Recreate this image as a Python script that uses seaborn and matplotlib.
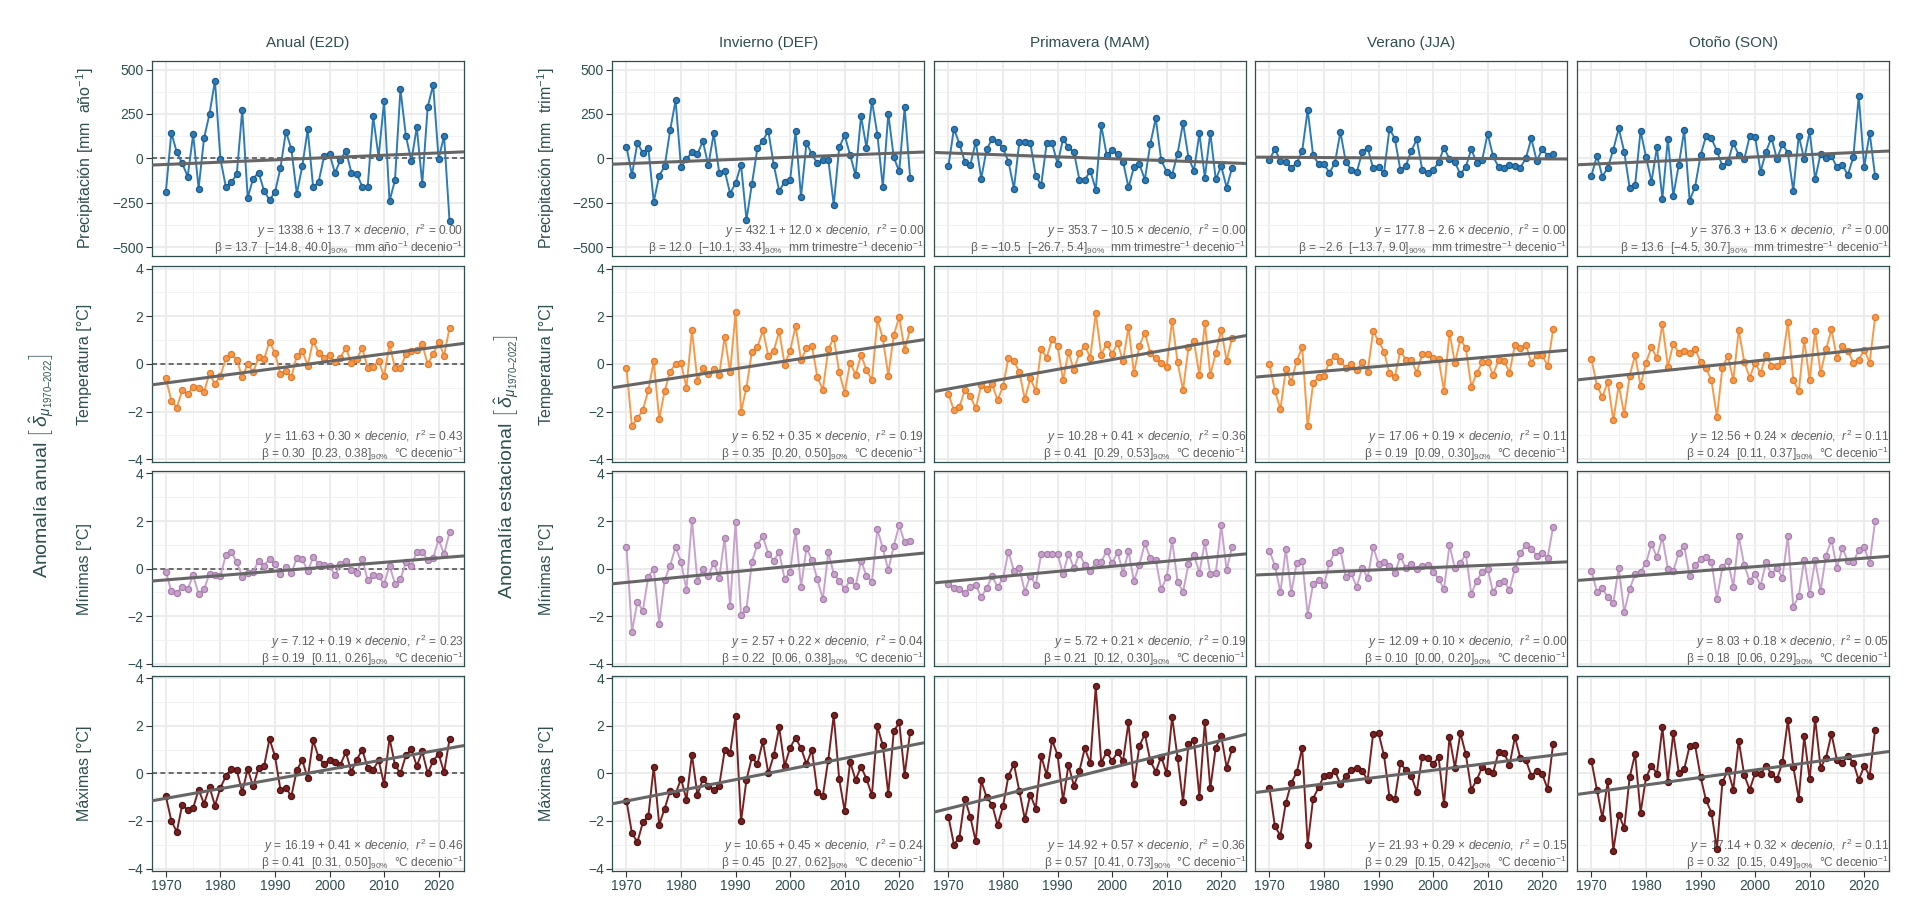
import numpy as np
import pandas as pd
import matplotlib
matplotlib.use("Agg")
import matplotlib.pyplot as plt
import seaborn as sns
from matplotlib.ticker import FixedLocator

# ---------------- data ----------------
years = list(range(1970, 2023))
columns = ["Anual (E2D)", "Invierno (DEF)", "Primavera (MAM)", "Verano (JJA)", "Otoño (SON)"]

precip_anual = [-187, 144, 34, -28, -103, 135, -170, 114, 250, 437,
                -4, -161, -136, -88, 273, -221, -114, -80, -183, -235,
                -191, -56, 151, 54, -200, -45, 163, -164, -133, 11,
                24, -82, -9, 43, -80, -88, -159, -159, 236, 7,
                321, -241, -123, 389, 127, -15, 176, -144, 290, 413,
                -4, 127, -351]
temp_anual = [-0.61, -1.54, -1.83, -1.11, -1.27, -0.96, -1.00, -1.17, -0.39, -0.85,
              -0.49, 0.23, 0.41, 0.18, -0.56, 0.00, -0.35, 0.28, 0.20, 0.94,
              0.45, -0.42, -0.28, -0.56, 0.34, 0.56, -0.07, 0.97, 0.47, 0.27,
              0.38, 0.07, 0.27, 0.68, 0.03, 0.21, 0.68, -0.18, -0.11, 0.14,
              -0.52, 0.82, -0.16, -0.18, 0.42, 0.56, 0.59, 0.83, 0.00, 0.41,
              0.94, 0.34, 1.52]
tmin_anual = [-0.13, -0.95, -1.03, -0.76, -0.86, -0.27, -1.06, -0.87, -0.21, -0.25,
              -0.31, 0.59, 0.69, 0.27, -0.34, -0.20, -0.13, 0.34, 0.13, 0.41,
              0.21, -0.21, 0.07, -0.20, 0.45, 0.41, -0.10, 0.48, 0.21, 0.16,
              0.13, -0.27, 0.18, 0.34, -0.07, -0.20, 0.42, -0.49, -0.28, -0.32,
              -0.65, 0.13, -0.63, -0.45, 0.28, 0.11, 0.71, 0.69, 0.37, 0.44,
              1.23, 0.61, 1.52]
tmax_anual = [-0.97, -1.99, -2.46, -1.31, -1.55, -1.45, -0.69, -1.27, -0.58, -1.35,
              -0.61, -0.11, 0.20, 0.13, -0.79, 0.18, -0.55, 0.23, 0.30, 1.45,
              0.72, -0.68, -0.61, -0.96, 0.13, 0.56, -0.21, 1.38, 0.68, 0.38,
              0.58, 0.48, 0.37, 0.89, 0.06, 0.58, 0.99, 0.23, 0.14, 0.56,
              -0.45, 1.48, 0.35, 0.00, 0.75, 1.01, 0.31, 0.92, 0.00, 0.52,
              0.82, 0.04, 1.44]

precip_invierno = [66, -94, 88, 30, 58, -245, -97, -45, 157, 326,
                   -49, -6, 37, 24, 96, -39, 140, -82, -69, -198,
                   -140, -36, -346, -144, 56, 99, 154, -36, -185, -131,
                   -122, 152, -217, 88, 22, -28, -9, -7, -262, 62,
                   129, 19, -96, 238, 60, 324, 133, -161, 251, 6,
                   -73, 287, -109]
temp_invierno = [-0.17, -2.62, -2.27, -1.94, -1.10, 0.11, -2.32, -1.13, -0.32, 0.00,
                 0.03, -1.00, 1.44, -0.70, -0.15, -0.42, -0.23, -0.45, 1.15, -0.35,
                 2.17, -2.00, -0.99, 0.52, 0.70, 1.41, 0.35, 0.55, 1.37, -0.03,
                 0.55, 1.59, 0.17, 0.65, 0.77, -0.56, -1.08, 0.61, 1.11, -0.35,
                 -1.20, 0.06, -0.45, 0.37, -0.25, -0.68, 1.87, 1.07, -0.49, 1.21,
                 1.97, 0.59, 1.46]
tmin_invierno = [0.93, -2.66, -1.39, -1.77, -0.34, 0.00, -2.31, -0.48, 0.13, 0.90,
                 0.30, -0.90, 2.06, -0.52, -0.03, -0.31, 0.25, -0.38, 1.30, -1.58,
                 1.96, -1.93, -1.70, 0.30, 1.01, 1.35, 0.62, 0.34, 0.69, -0.44,
                 -0.13, 1.59, -0.77, 0.86, 0.37, -0.45, -1.28, 0.69, -0.21, -0.51,
                 -0.86, -0.48, -0.73, 0.34, -0.30, -0.54, 1.65, 0.85, -0.06, 0.96,
                 1.82, 1.10, 1.17]
tmax_invierno = [-1.15, -2.51, -2.89, -2.06, -1.80, 0.28, -2.15, -1.48, -0.73, -0.86,
                 -0.23, -1.10, 0.79, -0.90, -0.24, -0.52, -0.70, -0.52, 0.96, 0.85,
                 2.42, -2.01, -0.27, 0.68, 0.38, 1.35, 0.00, 0.75, 1.93, 0.31,
                 1.08, 1.49, 1.06, 0.39, 0.99, -0.77, -0.94, 0.58, 2.44, -0.25,
                 -1.58, 0.49, -0.28, 0.28, -0.23, -0.92, 1.97, 1.17, -0.87, 1.76,
                 2.14, -0.07, 1.73]

precip_primavera = [-41, 167, 82, -19, -37, 94, -114, 51, 109, 94,
                    56, -19, -170, 94, 94, 88, -99, -150, 84, 84,
                    -30, 109, 62, 34, -120, -122, -69, -176, 187, 19,
                    45, 26, -19, -163, -51, -32, -120, 81, 225, -11,
                    -75, -92, 26, 199, 4, -69, 140, -109, 144, -118,
                    -43, -165, -52]
temp_primavera = [-1.27, -1.94, -1.80, -1.10, -1.35, -1.87, -0.89, -1.07, -0.85, -1.52,
                  -0.93, 0.27, 0.14, -0.35, -1.48, -0.61, -1.13, 0.62, 0.27, 1.04,
                  0.76, -0.68, 0.49, -0.25, 0.45, 0.76, 0.27, 2.14, 0.39, 0.85,
                  0.42, 0.87, 0.13, 1.55, -0.39, 0.76, 1.32, 0.45, 0.24, 0.03,
                  -0.11, 1.82, 0.07, -1.10, 0.70, 0.97, -0.48, 1.72, -0.46, 0.45,
                  1.44, 0.13, 1.11]
tmin_primavera = [-0.65, -0.82, -0.85, -1.01, -0.77, -0.69, -1.18, -0.83, -0.31, -0.77,
                  -0.41, 0.72, -0.10, 0.01, -0.97, -0.30, -0.69, 0.61, 0.63, 0.61,
                  0.63, -0.23, 0.63, 0.01, 0.63, 0.15, -0.10, 0.27, 0.27, 0.76,
                  0.23, 0.69, -0.17, 0.73, -0.52, 0.17, 1.06, 0.44, 0.37, -0.87,
                  -0.37, 1.20, -0.55, -0.97, 0.18, 0.58, -0.17, 1.11, -0.23, -0.20,
                  1.82, -0.06, 0.93]
tmax_primavera = [-1.83, -2.99, -2.70, -1.06, -1.83, -2.86, -0.30, -1.01, -1.31, -2.18,
                  -1.38, -0.10, 0.39, -0.76, -1.93, -0.89, -1.48, 0.72, -0.07, 1.39,
                  0.77, -1.13, 0.35, -0.52, 0.10, 1.06, 0.42, 3.66, 0.45, 0.89,
                  0.52, 0.89, 0.52, 2.14, -0.45, 1.15, 1.65, 0.52, 0.07, 0.70,
                  0.00, 2.37, 0.66, -1.20, 1.23, 1.38, -0.99, 2.14, -0.63, 1.08,
                  1.58, 0.24, 1.03]

precip_verano = [-7, 52, -13, -22, -52, -28, 41, 273, 17, -32,
                 -34, -81, -26, 148, -21, -64, -79, 36, 60, -56,
                 -51, -81, 167, 109, -67, -41, 41, 107, -64, -81,
                 -67, -22, 60, -4, -22, -90, -47, 52, -26, -7,
                 139, 11, -49, -52, -39, -41, -52, 0, 112, -15,
                 52, 15, 22]
temp_verano = [-0.01, -1.13, -1.90, -0.23, -0.75, 0.13, 0.70, -2.62, -0.82, -0.54,
               -0.49, 0.10, 0.34, 0.13, -0.18, 0.00, -0.25, 0.08, -0.32, 1.37,
               0.97, 0.52, -0.39, -0.54, 0.56, 0.17, 0.17, -0.37, 0.42, 0.41,
               0.24, 0.20, -1.13, 1.32, 0.03, 1.04, 0.66, -0.96, -0.39, 0.07,
               0.10, -0.46, 0.17, 0.14, -0.37, 0.80, 0.69, 0.80, 0.06, 0.38,
               0.37, -0.08, 1.46]
tmin_verano = [0.75, 0.13, -0.99, 0.82, -1.01, 0.25, 0.34, -1.93, -0.63, -0.48,
               -0.69, 0.25, 0.70, 0.77, -0.35, -0.20, -0.77, 0.04, -0.38, 0.92,
               0.21, 0.27, 0.11, -0.20, 0.52, 0.01, 0.18, 0.00, 0.11, 0.14,
               -0.13, -0.44, -0.86, 0.99, 0.01, 0.24, 0.61, -1.06, -0.51, -0.13,
               0.00, -1.00, -0.59, -0.52, -0.90, 0.00, 0.66, 0.99, 0.82, 0.55,
               0.65, 0.46, 1.76]
tmax_verano = [-0.63, -2.23, -2.61, -1.24, -0.39, 0.04, 1.08, -3.00, -1.06, -0.59,
               -0.10, -0.07, 0.10, -0.45, -0.10, 0.13, 0.21, 0.10, -0.28, 1.65,
               1.69, 0.75, -0.99, -1.06, 0.42, 0.14, -0.11, -0.77, 0.70, 0.66,
               0.39, 0.68, -1.30, 1.52, 0.24, 1.69, 0.80, -0.68, -0.28, 0.28,
               0.10, 0.03, 0.89, 0.87, 0.35, 1.52, 0.63, 0.56, -0.10, 0.10,
               -0.03, -0.66, 1.23]

precip_otono = [-97, 15, -103, -52, 49, 169, 37, -167, -150, 155,
                7, -131, 62, -228, 109, -210, -37, 157, -238, -159,
                17, 125, 112, 41, -43, -21, 86, 19, -6, 124,
                122, -75, 37, 116, -4, 79, 32, -184, 127, -4,
                152, -118, 26, 2, 13, -51, -37, -94, 7, 352,
                -49, 144, -101]
temp_otono = [0.21, -0.92, -1.38, -0.75, -2.37, -0.89, -2.11, -0.49, 0.38, -0.92,
              0.06, 0.70, 0.24, 1.68, -0.11, 0.85, 0.45, 0.56, 0.45, 0.62,
              0.10, -0.18, -0.68, -2.23, -0.15, 0.34, -0.68, 1.41, 0.10, -0.58,
              0.06, -0.39, 0.38, -0.08, -0.08, 0.14, 1.76, -0.68, -1.14, 1.01,
              -0.68, 1.39, -0.39, 0.62, 1.46, 0.24, 0.76, 0.56, 0.06, 0.17,
              0.59, 0.06, 1.97]
tmin_otono = [-0.10, -0.97, -0.83, -1.20, -1.44, 0.04, -1.82, -0.86, -0.23, -0.13,
              0.23, 1.04, 0.48, 1.31, -0.01, -0.10, 0.66, 0.94, -0.31, 0.15,
              0.39, 0.48, 0.30, -1.27, 0.07, 0.34, -0.76, 1.37, 0.15, -0.51,
              -0.21, -0.72, 0.27, -0.24, 0.04, -0.38, 1.37, -1.62, -1.14, 0.38,
              -1.08, 0.35, -0.93, 0.55, 1.21, 0.03, 0.86, 0.32, 0.27, 0.79,
              0.89, 0.25, 1.99]
tmax_otono = [0.52, -0.70, -1.87, -0.31, -3.24, -1.73, -2.30, -0.17, 0.82, -1.65,
              -0.17, 0.31, -0.01, 1.93, -0.35, 1.69, 0.03, 0.18, 1.15, 1.17,
              -0.14, -1.13, -1.65, -3.17, -0.38, 0.14, -0.68, 1.37, -0.07, -0.68,
              0.00, -0.04, 0.32, -0.03, -0.25, 0.46, 2.23, 0.28, -1.06, 1.55,
              -0.25, 2.30, 0.24, 0.66, 1.65, 0.56, 0.45, 0.73, 0.45, -0.28,
              0.31, -0.11, 1.83]

# regression annotation values (text)
eq_intercept = [["1338.6", "432.1", "353.7", "177.8", "376.3"],
                ["11.63", "6.52", "10.28", "17.06", "12.56"],
                ["7.12", "2.57", "5.72", "12.09", "8.03"],
                ["16.19", "10.65", "14.92", "21.93", "17.14"]]
eq_slope = [["13.7", "12.0", "−10.5", "−2.6", "13.6"],
            ["0.30", "0.35", "0.41", "0.19", "0.24"],
            ["0.19", "0.22", "0.21", "0.10", "0.18"],
            ["0.41", "0.45", "0.57", "0.29", "0.32"]]
eq_r2 = [["0.00", "0.00", "0.00", "0.00", "0.00"],
         ["0.43", "0.19", "0.36", "0.11", "0.11"],
         ["0.23", "0.04", "0.19", "0.00", "0.05"],
         ["0.46", "0.24", "0.36", "0.15", "0.11"]]
ci_low = [["−14.8", "−10.1", "−26.7", "−13.7", "−4.5"],
          ["0.23", "0.20", "0.29", "0.09", "0.11"],
          ["0.11", "0.06", "0.12", "0.00", "0.06"],
          ["0.31", "0.27", "0.41", "0.15", "0.15"]]
ci_high = [["40.0", "33.4", "5.4", "9.0", "30.7"],
           ["0.38", "0.50", "0.53", "0.30", "0.37"],
           ["0.26", "0.38", "0.30", "0.20", "0.29"],
           ["0.50", "0.62", "0.73", "0.42", "0.49"]]

series = [[precip_anual, precip_invierno, precip_primavera, precip_verano, precip_otono],
          [temp_anual, temp_invierno, temp_primavera, temp_verano, temp_otono],
          [tmin_anual, tmin_invierno, tmin_primavera, tmin_verano, tmin_otono],
          [tmax_anual, tmax_invierno, tmax_primavera, tmax_verano, tmax_otono]]

row_labels_anual = ["Precipitación [mm  año$^{-1}$]", "Temperatura [°C]", "Mínimas [°C]", "Máximas [°C]"]
row_labels_estac = ["Precipitación [mm  trim$^{-1}$]", "Temperatura [°C]", "Mínimas [°C]", "Máximas [°C]"]

# ---------------- style ----------------
sns.set_theme(style="white")
plt.rcParams["font.family"] = ["Liberation Sans", "DejaVu Sans"]
plt.rcParams["mathtext.fontset"] = "custom"
plt.rcParams["mathtext.rm"] = "Liberation Sans"
plt.rcParams["mathtext.it"] = "Liberation Sans:italic"
plt.rcParams["mathtext.bf"] = "Liberation Sans:bold"

TXT = "#2F4F4F"
ANN = "#606060"
line_colors = ["#2c7bb6", "#f8994a", "#c8a2cc", "#7a2020"]
edge_colors = ["#1d5a8c", "#e07b2c", "#a67fab", "#4e1212"]

W, H = 1925, 924
col_left_px = [151.7, 612.3, 934.3, 1255.3, 1577.3]
panel_w_px = 312.0
row_top_px = [60.7, 266.3, 471.0, 675.7]
panel_h_px = 195.3

ylims = [(-550, 550), (-4.1, 4.1), (-4.1, 4.1), (-4.1, 4.1)]
ymajor = [[-500, -250, 0, 250, 500]] + [[-4, -2, 0, 2, 4]] * 3
yminor = [[-375, -125, 125, 375]] + [[-3, -1, 1, 3]] * 3
xmajor = [1970, 1980, 1990, 2000, 2010, 2020]
xminor = [1975, 1985, 1995, 2005, 2015]

fig = plt.figure(figsize=(W / 100, H / 100), dpi=100)
fig.patch.set_facecolor("white")

for r in range(4):
    for c in range(5):
        left = col_left_px[c] / W
        bottom = 1 - (row_top_px[r] + panel_h_px) / H
        ax = fig.add_axes([left, bottom, panel_w_px / W, panel_h_px / H])
        ax.set_facecolor("white")
        ax.set_xlim(1967.4, 2024.6)
        ax.set_ylim(*ylims[r])
        ax.xaxis.set_major_locator(FixedLocator(xmajor))
        ax.xaxis.set_minor_locator(FixedLocator(xminor))
        ax.yaxis.set_major_locator(FixedLocator(ymajor[r]))
        ax.yaxis.set_minor_locator(FixedLocator(yminor[r]))
        ax.grid(which="major", color="#EBEBEB", linewidth=1.3)
        ax.grid(which="minor", color="#F2F2F2", linewidth=0.7)
        ax.set_axisbelow(True)

        if c == 0:
            ax.axhline(0, color="#555555", linewidth=1.2, linestyle=(0, (3, 2)), zorder=1.5)

        df = pd.DataFrame({"year": years, "val": series[r][c]})
        sns.lineplot(data=df, x="year", y="val", ax=ax, color=line_colors[r],
                     linewidth=1.4, marker="o", markersize=4.4,
                     markerfacecolor=line_colors[r], markeredgecolor=edge_colors[r],
                     markeredgewidth=0.9, zorder=3)
        sns.regplot(data=df, x="year", y="val", ax=ax, scatter=False, ci=None,
                    truncate=False, color="#666666",
                    line_kws={"linewidth": 2.2, "zorder": 4})
        ax.set_xlim(1967.4, 2024.6)
        ax.set_ylim(*ylims[r])
        ax.set_xlabel("")
        ax.set_ylabel("")

        for s in ax.spines.values():
            s.set_color(TXT)
            s.set_linewidth(0.9)

        ax.tick_params(which="major", length=4, width=0.8, color="#333333",
                       labelcolor=TXT, labelsize=10, pad=2,
                       left=(c <= 1), labelleft=(c <= 1),
                       bottom=(r == 3), labelbottom=(r == 3))
        ax.tick_params(which="minor", length=0)

        slope = eq_slope[r][c]
        if slope.startswith("−"):
            op, sv = "−", slope[1:]
        else:
            op, sv = "+", slope
        eq = f"$y$ = {eq_intercept[r][c]} {op} {sv} × $decenio$,  $r^2$ = {eq_r2[r][c]}"
        if r == 0:
            unit = "mm año$^{-1}$" if c == 0 else "mm trimestre$^{-1}$"
        else:
            unit = "°C"
        beta = f"β = {slope}  [{ci_low[r][c]}, {ci_high[r][c]}]$_{{90\\%}}$  {unit} decenio$^{{-1}}$"
        ax.text(0.999, 0.105, eq, transform=ax.transAxes, ha="right", va="baseline",
                fontsize=8.6, color=ANN, zorder=2)
        ax.text(0.999, 0.018, beta, transform=ax.transAxes, ha="right", va="baseline",
                fontsize=8.6, color=ANN, zorder=2)

        if r == 0:
            fig.text((col_left_px[c] + panel_w_px / 2) / W, 1 - 43 / H, columns[c],
                     ha="center", va="center", fontsize=11, color=TXT)

    yc = 1 - (row_top_px[r] + panel_h_px / 2) / H
    fig.text(85 / W, yc, row_labels_anual[r], rotation=90, ha="center", va="center",
             fontsize=11.5, color=TXT)
    fig.text(546 / W, yc, row_labels_estac[r], rotation=90, ha="center", va="center",
             fontsize=11.5, color=TXT)

big_y = 1 - 466 / H
fig.text(42 / W, big_y, r"Anomalía anual $\left[\,\hat{\delta}_{\mu_{1970–2022}}\right]$",
         rotation=90, ha="center", va="center", fontsize=14, color=TXT)
fig.text(507 / W, big_y, r"Anomalía estacional $\left[\,\hat{\delta}_{\mu_{1970–2022}}\right]$",
         rotation=90, ha="center", va="center", fontsize=14, color=TXT)

fig.savefig("out.png", dpi=100, facecolor="white")
